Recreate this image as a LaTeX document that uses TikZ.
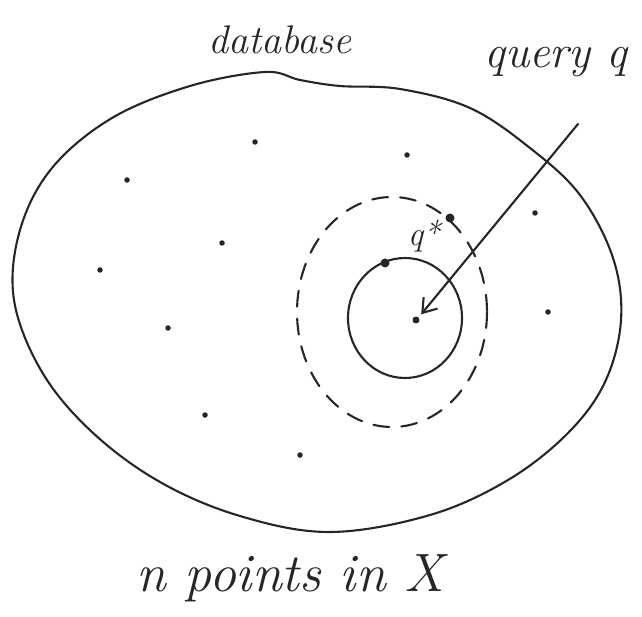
\documentclass[tikz,border=0pt]{standalone}
\usepackage{fontspec}
\usetikzlibrary{arrows.meta}
\begin{document}
\begin{tikzpicture}[x=1pt,y=-1pt,
  ink/.style={draw=black!85,line width=2.1pt,line cap=round,line join=round},
  pt/.style={circle,fill=black!85,inner sep=0pt,minimum size=5.5pt},
  bigpt/.style={circle,fill=black!85,inner sep=0pt,minimum size=9pt},
  hand/.style={font=\itshape\fontsize{#1}{#1}\selectfont,text=black!85,inner sep=0pt}]
\useasboundingbox (0,0) rectangle (642,617);
% database blob
\draw[ink] plot[smooth cycle,tension=0.6] coordinates {
 (265,72) (300,80) (340,86) (400,89) (470,108) (530,148) (580,195) (613,258)
 (621,320) (605,382) (568,433) (508,480) (430,515) (330,532) (240,516)
 (160,482) (92,432) (42,372) (14,300) (20,230) (52,168) (112,118) (190,86)};
% neighbourhoods
\draw[ink] (405,318) ellipse [x radius=57, y radius=60];
\draw[ink,dash pattern=on 16pt off 12pt] (392,312) ellipse [x radius=95, y radius=115];
% points
\node[pt] (p1) at (255,142) {};
\node[pt] (p2) at (127,180) {};
\node[pt] (p3) at (407,155) {};
\node[pt] (p4) at (222,243) {};
\node[pt] (p5) at (100,270) {};
\node[pt] (p6) at (168,328) {};
\node[pt] (p7) at (205,415) {};
\node[pt] (p8) at (300,455) {};
\node[pt] (p9) at (535,213) {};
\node[pt] (p10) at (548,312) {};
\node[bigpt] (p11) at (450,218) {};
\node[bigpt] (qstar) at (385,263) {};
\node[pt,minimum size=7pt] (q) at (416,320) {};
% labels
\node[hand=40] (db) at (280,40) {database};
\node[hand=46] (ql) at (556,62) {query q};
\node[hand=34] (qs) at (424,236) {q*};
\node[hand=54] (title) at (290,578) {n points in X};
% arrow
\coordinate (astart) at (578,124);
\draw[ink,shorten >=4pt,-{Straight Barb[length=13pt,width=18pt]}] (astart) -- (q.north east);
\end{tikzpicture}
\end{document}
